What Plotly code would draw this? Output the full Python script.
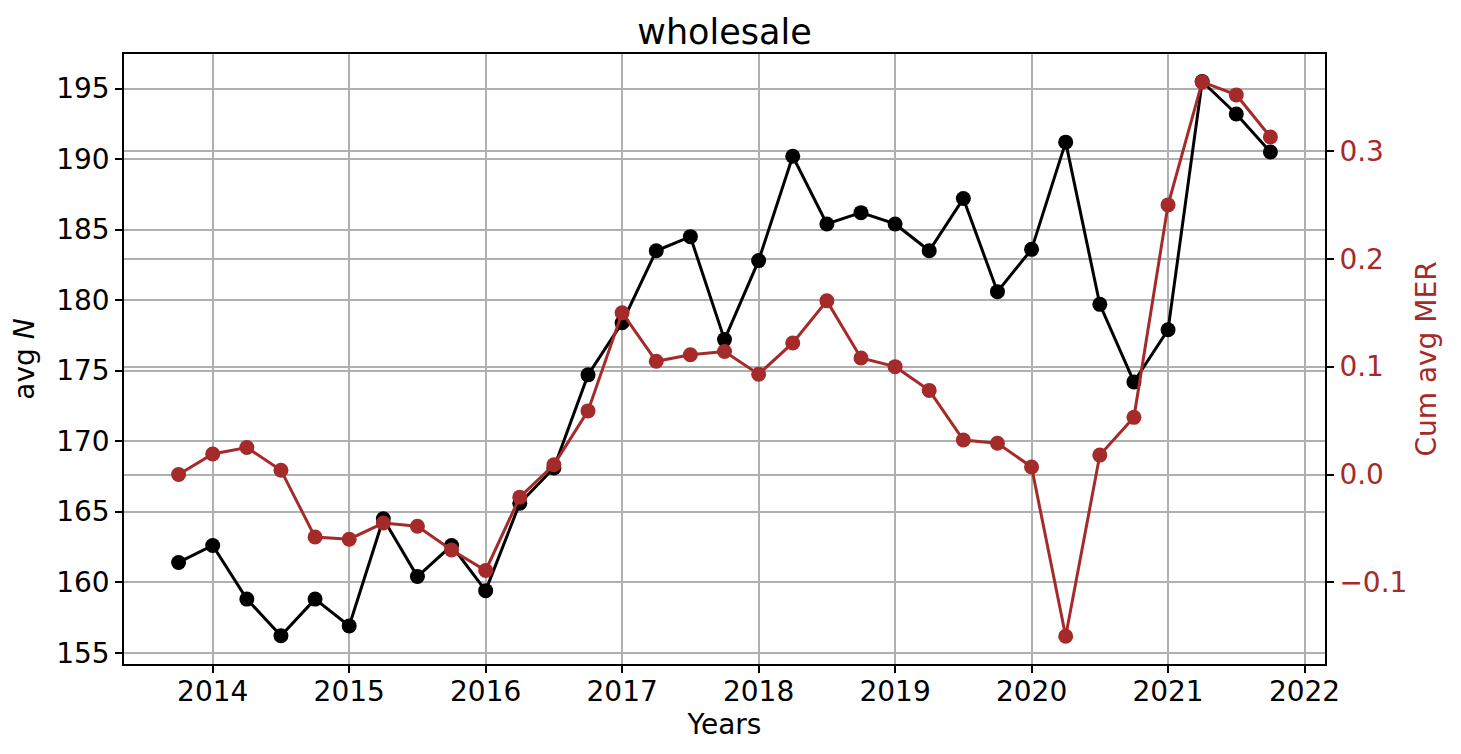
import plotly.graph_objects as go

years = [2013.75, 2014.0, 2014.25, 2014.5, 2014.75, 2015.0, 2015.25, 2015.5, 2015.75,
         2016.0, 2016.25, 2016.5, 2016.75, 2017.0, 2017.25, 2017.5, 2017.75,
         2018.0, 2018.25, 2018.5, 2018.75, 2019.0, 2019.25, 2019.5, 2019.75,
         2020.0, 2020.25, 2020.5, 2020.75, 2021.0, 2021.25, 2021.5, 2021.75]

avg_n = [161.4, 162.6, 158.8, 156.2, 158.8, 156.9, 164.5, 160.4, 162.6,
         159.4, 165.6, 168.1, 174.7, 178.4, 183.5, 184.5, 177.2,
         182.8, 190.2, 185.4, 186.2, 185.4, 183.5, 187.2, 180.6,
         183.6, 191.2, 179.7, 174.2, 177.9, 195.5, 193.2, 190.5]

cum_avg_mer = [0.000, 0.019, 0.025, 0.004, -0.058, -0.060, -0.045, -0.048, -0.070,
               -0.089, -0.021, 0.009, 0.059, 0.150, 0.105, 0.111, 0.114,
               0.093, 0.122, 0.161, 0.108, 0.100, 0.078, 0.032, 0.029,
               0.007, -0.150, 0.018, 0.053, 0.250, 0.364, 0.352, 0.313]

x_ticks = [2014, 2015, 2016, 2017, 2018, 2019, 2020, 2021, 2022]
y_ticks = [155, 160, 165, 170, 175, 180, 185, 190, 195]
y2_ticks = [-0.1, 0.0, 0.1, 0.2, 0.3]
y2_ticktext = ["\u22120.1", "0.0", "0.1", "0.2", "0.3"]

BROWN = "#A52A2A"
GRID = "#b0b0b0"
FONT = "DejaVu Sans"

fig = go.Figure()
fig.add_trace(go.Scatter(
    x=years, y=avg_n, mode="lines+markers", yaxis="y",
    line=dict(color="black", width=3),
    marker=dict(color="black", size=15),
    showlegend=False,
))
fig.add_trace(go.Scatter(
    x=years, y=cum_avg_mer, mode="lines+markers", yaxis="y2",
    line=dict(color=BROWN, width=3),
    marker=dict(color=BROWN, size=15),
    showlegend=False,
))

axis_common = dict(
    showline=True, linecolor="black", linewidth=1.6,
    ticks="outside", ticklen=7, tickwidth=1.6, tickcolor="black",
    showgrid=True, gridcolor=GRID, gridwidth=1.6, zeroline=False,
    automargin=False,
)

# page body has an 8px default margin; figure is sized so it ends at 1461x754
fig.update_layout(
    width=1453, height=746,
    paper_bgcolor="white", plot_bgcolor="white",
    margin=dict(l=116, r=136, t=46, b=90),
    font=dict(family=FONT, size=28, color="black"),
    title=dict(text="wholesale", x=0.5, xanchor="center", xref="paper",
               y=1 - 24 / 746, yanchor="middle", yref="container",
               font=dict(size=35, family=FONT, color="black")),
    xaxis=dict(
        range=[2013.35, 2022.15], tickvals=x_ticks, ticktext=[str(t) for t in x_ticks],
        mirror=True,
        title=dict(text="Years", font=dict(size=28), standoff=2),
        tickfont=dict(size=28),
        ticklabelstandoff=-5,
        **axis_common,
    ),
    yaxis=dict(
        range=[154.2, 197.45], tickvals=y_ticks,
        mirror=True,
        title=dict(text="avg <i>N</i>", font=dict(size=28), standoff=14),
        tickfont=dict(size=28),
        **axis_common,
    ),
    yaxis2=dict(
        overlaying="y", side="right",
        range=[-0.1757, 0.3899], tickvals=y2_ticks, ticktext=y2_ticktext,
        title=dict(text="Cum avg MER", font=dict(size=28, color=BROWN), standoff=10),
        tickfont=dict(size=28, color=BROWN),
        **axis_common,
    ),
)

fig.write_html("out.html")
